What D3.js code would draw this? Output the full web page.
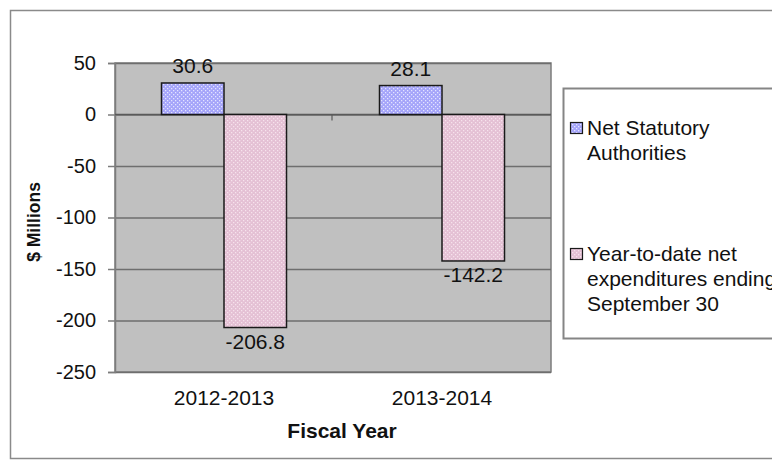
<!DOCTYPE html>
<html>
<head>
<meta charset="utf-8">
<script src="https://cdn.jsdelivr.net/npm/d3@7"></script>
<style>
  body { margin: 0; background: #fff; }
  svg { display: block; font-family: Arial, "Liberation Sans", sans-serif; }
</style>
</head>
<body>
<svg id="chart" width="772" height="461"></svg>
<script>
const years = ["2012-2013", "2013-2014"];
const seriesNames = ["Net Statutory Authorities", "Year-to-date net expenditures ending September 30"];
const netStatutory = [30.6, 28.1];
const ytdNet = [-206.8, -142.2];
const yTicks = [50, 0, -50, -100, -150, -200, -250];
const legendLines = [["Net Statutory", "Authorities"], ["Year-to-date net", "expenditures ending", "September 30"]];

const svg = d3.select("#chart");
const plot = { left: 115, top: 63, right: 551, bottom: 372 };

// patterns for the hatched bars
const defs = svg.append("defs");
function dotPattern(id, base, dot) {
  const p = defs.append("pattern").attr("id", id)
    .attr("width", 4).attr("height", 4).attr("patternUnits", "userSpaceOnUse");
  p.append("rect").attr("width", 4).attr("height", 4).attr("fill", base);
  p.append("rect").attr("x", 0).attr("y", 0).attr("width", 1.3).attr("height", 1.3).attr("fill", dot);
  p.append("rect").attr("x", 2).attr("y", 2).attr("width", 1.3).attr("height", 1.3).attr("fill", dot);
}
dotPattern("pBlue", "#a4a4fa", "#e4e4ff");
dotPattern("pPink", "#e4c0d4", "#f6e2ec");
const fills = ["url(#pBlue)", "url(#pPink)"];

// outer frame
svg.append("rect").attr("x", 10.5).attr("y", 10.5).attr("width", 800).attr("height", 448)
  .attr("fill", "#fff").attr("stroke", "#8a8a8a").attr("stroke-width", 1.5);

const y = d3.scaleLinear().domain([-250, 50]).range([plot.bottom, plot.top]);
const x0 = d3.scaleBand().domain(years).range([plot.left, plot.right]);
const bw = x0.bandwidth();
const x1 = d3.scaleBand().domain(seriesNames).range([bw / 2 - 62.5, bw / 2 + 62.5]);

// plot background
svg.append("rect")
  .attr("x", plot.left).attr("y", plot.top)
  .attr("width", plot.right - plot.left).attr("height", plot.bottom - plot.top)
  .attr("fill", "#c0c0c0").attr("stroke", "#7c7c7c").attr("stroke-width", 1.5);

// gridlines
svg.append("g")
  .attr("transform", "translate(" + plot.left + ",0)")
  .call(d3.axisLeft(y).tickValues(yTicks).tickSize(-(plot.right - plot.left)).tickFormat(""))
  .call(g => g.select(".domain").remove())
  .call(g => g.selectAll("line").attr("stroke", "#6e6e6e").attr("stroke-width", 1.5));

// y axis
const yAxis = svg.append("g")
  .attr("transform", "translate(" + plot.left + ",0)")
  .call(d3.axisLeft(y).tickValues(yTicks).tickSize(7).tickPadding(12).tickFormat(d3.format("d")));
yAxis.select(".domain").attr("stroke", "#7c7c7c").attr("stroke-width", 1.5);
yAxis.selectAll("line").attr("stroke", "#7c7c7c").attr("stroke-width", 1.5);
yAxis.selectAll("text").attr("font-size", 20).attr("fill", "#111").attr("font-family", null)
  .text(d => d < 0 ? "-" + Math.abs(d) : d);

// zero line with category divider tick
svg.append("line")
  .attr("x1", plot.left).attr("x2", plot.right).attr("y1", y(0)).attr("y2", y(0))
  .attr("stroke", "#5a5a5a").attr("stroke-width", 1.5);
svg.append("line")
  .attr("x1", x0(years[1]) - 1).attr("x2", x0(years[1]) - 1)
  .attr("y1", y(0)).attr("y2", y(0) + 6)
  .attr("stroke", "#5a5a5a").attr("stroke-width", 1.2);

// bars
const rows = years.map((yr, i) => ({ year: yr, vals: [netStatutory[i], ytdNet[i]] }));
const groups = svg.append("g").selectAll("g").data(rows).enter().append("g")
  .attr("transform", d => "translate(" + x0(d.year) + ",0)");

groups.selectAll("rect")
  .data(d => d.vals.map((v, k) => ({ v, k })))
  .enter().append("rect")
  .attr("x", d => x1(seriesNames[d.k]))
  .attr("width", x1.bandwidth())
  .attr("y", d => y(Math.max(0, d.v)))
  .attr("height", d => Math.abs(y(d.v) - y(0)))
  .attr("fill", d => fills[d.k])
  .attr("stroke", "#1a1a1a").attr("stroke-width", 1.5);

groups.selectAll("text.val")
  .data(d => d.vals.map((v, k) => ({ v, k })))
  .enter().append("text")
  .attr("class", "val")
  .attr("x", d => x1(seriesNames[d.k]) + x1.bandwidth() / 2)
  .attr("y", d => d.v >= 0 ? y(d.v) - 10 : y(d.v) + 21)
  .attr("text-anchor", "middle")
  .attr("font-size", 21).attr("fill", "#111")
  .text(d => d3.format(".1f")(d.v).replace("−", "-"));

// category labels
svg.append("g").selectAll("text").data(years).enter().append("text")
  .attr("x", d => x0(d) + bw / 2)
  .attr("y", 405)
  .attr("text-anchor", "middle")
  .attr("font-size", 21).attr("fill", "#111")
  .text(d => d);

// axis titles
svg.append("text")
  .attr("x", 342).attr("y", 438)
  .attr("text-anchor", "middle")
  .attr("font-size", 21).attr("font-weight", "bold").attr("fill", "#111")
  .text("Fiscal Year");

svg.append("text")
  .attr("transform", "translate(40,222) rotate(-90)")
  .attr("text-anchor", "middle")
  .attr("font-size", 17.5).attr("font-weight", "bold").attr("fill", "#111")
  .text("$ Millions");

// legend
const legend = svg.append("g");
legend.append("rect")
  .attr("x", 563.5).attr("y", 88.5).attr("width", 260).attr("height", 250)
  .attr("fill", "#fff").attr("stroke", "#858585").attr("stroke-width", 2);

const legendTop = [122, 248];
seriesNames.forEach((s, k) => {
  legend.append("rect")
    .attr("x", 570.5).attr("y", legendTop[k] + 0.5).attr("width", 12).attr("height", 11)
    .attr("fill", fills[k]).attr("stroke", "#1a1a1a").attr("stroke-width", 1.2);
  const t = legend.append("text")
    .attr("x", 587).attr("y", legendTop[k] + 13)
    .attr("font-size", 21).attr("fill", "#111");
  legendLines[k].forEach((line, j) => {
    t.append("tspan").attr("x", 587).attr("dy", j === 0 ? 0 : 25).text(line);
  });
});
</script>
</body>
</html>
